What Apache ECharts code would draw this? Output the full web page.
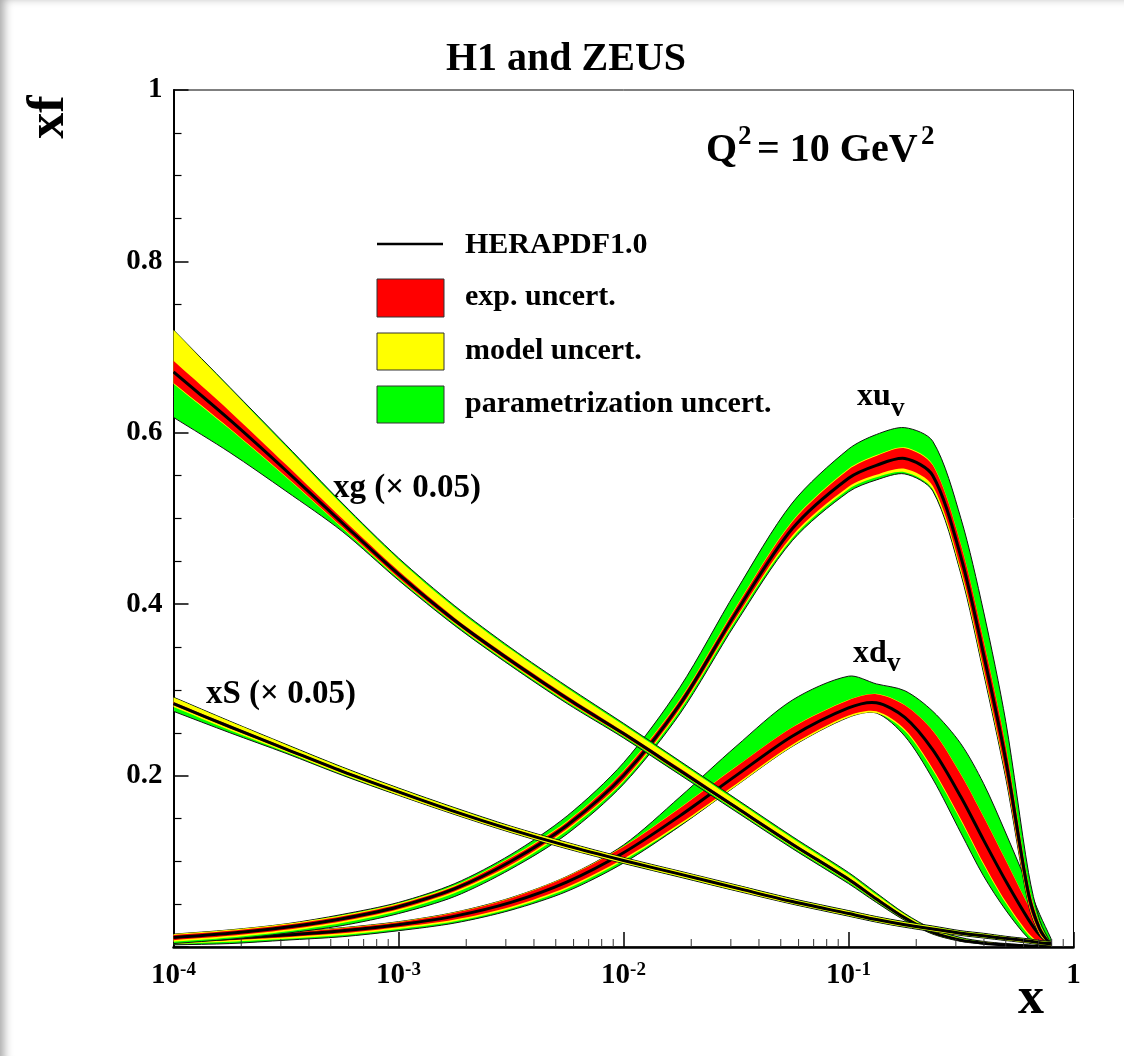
<!DOCTYPE html>
<html>
<head>
<meta charset="utf-8">
<script src="https://cdn.jsdelivr.net/npm/echarts@6/dist/echarts.min.js"></script>
<style>
  html, body { margin: 0; padding: 0; background: #fff; }
  #chart { width: 1124px; height: 1056px; }
  #shade { position: absolute; left: 0; top: 0; width: 1124px; height: 1056px; pointer-events: none;
           box-shadow: inset 10px 4px 10px -6px rgba(0, 0, 0, 0.35); }
</style>
</head>
<body>
<div id="chart"></div>
<div id="shade"></div>
<script>
// x grid shared by every curve
const X = [1e-4, 1.78e-4, 3.16e-4, 5.62e-4, 1e-3, 1.78e-3, 3.16e-3, 5.62e-3, 1e-2, 1.78e-2, 3.16e-2, 5.62e-2,
  0.1, 0.133, 0.178, 0.237, 0.316, 0.398, 0.5, 0.631, 0.708, 0.794]

// xd_v : central value and band offsets (up / down from central)
const dC = [0.0075, 0.010, 0.014, 0.019, 0.026, 0.036, 0.052, 0.076, 0.110, 0.153, 0.200, 0.246, 0.279, 0.285, 0.268, 0.230, 0.175, 0.125, 0.077, 0.032, 0.014, 0.003]
const dExp = [0.002, 0.002, 0.0025, 0.003, 0.003, 0.004, 0.005, 0.006, 0.007, 0.009, 0.010, 0.010, 0.009, 0.010, 0.014, 0.022, 0.026, 0.027, 0.024, 0.016, 0.009, 0.002]
const dModHi = [0.0025, 0.0025, 0.003, 0.0035, 0.0035, 0.0045, 0.0055, 0.0065, 0.0075, 0.0095, 0.0105, 0.0105, 0.0095, 0.0105, 0.0145, 0.0225, 0.0265, 0.0275, 0.0245, 0.0165, 0.0095, 0.0025]
const dModLo = [0.004, 0.004, 0.0045, 0.005, 0.005, 0.006, 0.007, 0.008, 0.009, 0.011, 0.012, 0.012, 0.011, 0.012, 0.016, 0.024, 0.028, 0.029, 0.026, 0.018, 0.010, 0.003]
const dTotHi = [0.0025, 0.0025, 0.003, 0.0035, 0.0035, 0.0045, 0.0055, 0.0065, 0.009, 0.022, 0.034, 0.042, 0.037, 0.022, 0.031, 0.045, 0.062, 0.066, 0.056, 0.038, 0.024, 0.007]
const dTotLo = [0.005, 0.006, 0.006, 0.007, 0.007, 0.008, 0.009, 0.011, 0.012, 0.012, 0.012, 0.012, 0.011, 0.012, 0.022, 0.034, 0.042, 0.042, 0.034, 0.022, 0.011, 0.003]

// xu_v
const uC = [0.011, 0.016, 0.023, 0.033, 0.047, 0.068, 0.100, 0.142, 0.200, 0.283, 0.390, 0.488, 0.547, 0.562, 0.570, 0.550, 0.455, 0.342, 0.218, 0.062, 0.021, 0.002]
const uExp = [0.003, 0.003, 0.003, 0.003, 0.003, 0.003, 0.004, 0.004, 0.005, 0.005, 0.006, 0.008, 0.010, 0.011, 0.012, 0.012, 0.014, 0.016, 0.016, 0.010, 0.005, 0.001]
const uModHi = [0.004, 0.004, 0.004, 0.004, 0.004, 0.004, 0.005, 0.005, 0.006, 0.006, 0.007, 0.009, 0.011, 0.012, 0.013, 0.013, 0.015, 0.017, 0.017, 0.011, 0.006, 0.001]
const uModLo = [0.005, 0.005, 0.005, 0.005, 0.005, 0.005, 0.006, 0.006, 0.007, 0.007, 0.008, 0.011, 0.013, 0.014, 0.016, 0.016, 0.018, 0.020, 0.019, 0.012, 0.006, 0.001]
const uTotHi = [0.004, 0.004, 0.004, 0.005, 0.005, 0.006, 0.008, 0.011, 0.015, 0.020, 0.025, 0.030, 0.034, 0.036, 0.036, 0.040, 0.045, 0.050, 0.045, 0.025, 0.010, 0.002]
const uTotLo = [0.007, 0.007, 0.007, 0.008, 0.008, 0.009, 0.009, 0.010, 0.010, 0.011, 0.012, 0.014, 0.016, 0.017, 0.018, 0.018, 0.020, 0.022, 0.021, 0.013, 0.007, 0.001]

// xg (x 0.05)
const gC = [0.671, 0.615, 0.556, 0.495, 0.435, 0.381, 0.334, 0.290, 0.249, 0.206, 0.163, 0.120, 0.079, 0.056, 0.034, 0.017, 0.008, 0.0045, 0.0025, 0.0012, 0.0007, 0.0003]
const gExp = [0.013, 0.010, 0.007, 0.005, 0.004, 0.003, 0.003, 0.003, 0.0025, 0.0025, 0.002, 0.002, 0.002, 0.002, 0.0015, 0.001, 0.001, 0.0005, 0.0003, 0.0002, 0.0001, 0.0001]
const gModHi = [0.049, 0.037, 0.028, 0.021, 0.017, 0.015, 0.013, 0.012, 0.010, 0.009, 0.008, 0.007, 0.006, 0.005, 0.004, 0.003, 0.002, 0.0015, 0.001, 0.0005, 0.0003, 0.0002]
const gModLo = [0.014, 0.011, 0.008, 0.006, 0.005, 0.004, 0.004, 0.004, 0.003, 0.003, 0.003, 0.003, 0.003, 0.0025, 0.002, 0.0015, 0.001, 0.0008, 0.0005, 0.0003, 0.0002, 0.0001]
const gTotHi = [0.049, 0.038, 0.030, 0.023, 0.019, 0.017, 0.015, 0.014, 0.012, 0.011, 0.010, 0.009, 0.008, 0.007, 0.005, 0.004, 0.003, 0.002, 0.0015, 0.001, 0.0005, 0.0003]
const gTotLo = [0.053, 0.038, 0.024, 0.010, 0.007, 0.006, 0.006, 0.006, 0.005, 0.005, 0.005, 0.005, 0.005, 0.004, 0.003, 0.002, 0.0015, 0.001, 0.0008, 0.0005, 0.0003, 0.0002]

// xS (x 0.05)
const sC = [0.284, 0.257, 0.231, 0.205, 0.181, 0.158, 0.137, 0.118, 0.101, 0.085, 0.069, 0.053, 0.039, 0.032, 0.026, 0.021, 0.016, 0.013, 0.010, 0.007, 0.005, 0.004]
const sExp = [0.002, 0.0018, 0.0016, 0.0015, 0.0014, 0.0013, 0.0012, 0.0012, 0.0012, 0.0012, 0.0012, 0.0012, 0.0012, 0.0012, 0.0012, 0.0012, 0.0012, 0.001, 0.001, 0.001, 0.001, 0.001]
const sModHi = [0.007, 0.006, 0.005, 0.0045, 0.004, 0.004, 0.0035, 0.0035, 0.003, 0.003, 0.003, 0.003, 0.003, 0.003, 0.003, 0.003, 0.0025, 0.0025, 0.002, 0.002, 0.002, 0.002]
const sModLo = [0.004, 0.004, 0.0035, 0.0035, 0.0035, 0.003, 0.003, 0.003, 0.003, 0.003, 0.003, 0.0025, 0.0025, 0.0025, 0.0025, 0.0025, 0.002, 0.002, 0.002, 0.002, 0.002, 0.002]
const sTotHi = [0.0075, 0.0065, 0.0055, 0.005, 0.0045, 0.0045, 0.004, 0.004, 0.0035, 0.0035, 0.0035, 0.0035, 0.0035, 0.0035, 0.0035, 0.0035, 0.003, 0.003, 0.0025, 0.0025, 0.0025, 0.0025]
const sTotLo = [0.009, 0.007, 0.005, 0.0045, 0.004, 0.0035, 0.0035, 0.0035, 0.0035, 0.0035, 0.0035, 0.003, 0.003, 0.003, 0.003, 0.003, 0.0025, 0.0025, 0.0025, 0.0025, 0.0025, 0.0025]

const xTickExp = [-4, -3, -2, -1, 0]
const legendLabels = ['HERAPDF1.0', 'exp. uncert.', 'model uncert.', 'parametrization uncert.']

const FONT = '"Liberation Serif", "DejaVu Serif", serif'
const GREEN = '#00ff00'
const YELLOW = '#ffff00'
const RED = '#ff0000'
const SMOOTH = 0.3

const chart = echarts.init(document.getElementById('chart'))

// filled band between c-dn and c+up, drawn as one smoothed polygon
const band = (c, up, dn, fill, outline) => ({
  type: 'custom',
  silent: true,
  clip: true,
  data: X.map((x, i) => [x, c[i] - dn[i], c[i] + up[i]]),
  encode: { x: 0, y: [1, 2] },
  renderItem: (params, api) => {
    if (params.dataIndexInside !== 0) return null
    const n = params.dataInsideLength
    const top = []
    const bot = []
    for (let i = 0; i < n; i++) {
      top.push(api.coord([api.value(0, i), api.value(2, i)]))
      bot.push(api.coord([api.value(0, i), api.value(1, i)]))
    }
    bot.reverse()
    // doubled end points keep the corners sharp when smoothing a closed shape
    const pts = [top[0], ...top, top[n - 1], bot[0], ...bot, bot[n - 1]]
    return {
      type: 'polygon',
      shape: { points: pts, smooth: SMOOTH },
      style: { fill, stroke: outline ? '#111' : null, lineWidth: outline ? 1 : 0 }
    }
  }
})

const centralLine = (c) => ({
  type: 'custom',
  silent: true,
  clip: true,
  data: X.map((x, i) => [x, c[i]]),
  encode: { x: 0, y: 1 },
  renderItem: (params, api) => {
    if (params.dataIndexInside !== 0) return null
    const pts = []
    for (let i = 0; i < params.dataInsideLength; i++) {
      pts.push(api.coord([api.value(0, i), api.value(1, i)]))
    }
    return {
      type: 'polyline',
      shape: { points: pts, smooth: SMOOTH },
      style: { fill: null, stroke: '#000', lineWidth: 3 }
    }
  }
})

const pdfSeries = (c, exp, modHi, modLo, totHi, totLo) => [
  band(c, totHi, totLo, GREEN, true),
  band(c, modHi, modLo, YELLOW, false),
  band(c, exp, exp, RED, false),
  centralLine(c)
]

const minorTickX = []
for (let k = -4; k < 0; k++) {
  for (let m = 2; m <= 9; m++) minorTickX.push(m * Math.pow(10, k))
}

const minorTicks = {
  type: 'custom',
  silent: true,
  clip: false,
  data: minorTickX.map((v) => [v, 0]),
  encode: { x: 0, y: 1 },
  renderItem: (params, api) => {
    const p = api.coord([api.value(0), 0])
    return {
      type: 'line',
      shape: { x1: p[0], y1: p[1], x2: p[0], y2: p[1] - 8 },
      style: { stroke: '#333', lineWidth: 1 }
    }
  }
}

const txt = (text, x, y, size, extra) => ({
  type: 'text',
  x,
  y,
  silent: true,
  style: Object.assign({
    text,
    font: 'bold ' + size + 'px ' + FONT,
    fill: '#000',
    align: 'left',
    verticalAlign: 'middle'
  }, extra || {})
})

const option = {
  animation: false,
  backgroundColor: '#fff',
  grid: {
    left: 173.5,
    right: 50.5,
    top: 90,
    bottom: 109,
    show: true,
    borderColor: '#000',
    borderWidth: 1
  },
  xAxis: {
    type: 'log',
    logBase: 10,
    min: 1e-4,
    max: 1,
    splitNumber: 4,
    axisLine: { lineStyle: { color: '#000', width: 2.5 } },
    axisTick: { inside: true, length: 15, lineStyle: { color: '#000', width: 1.5 } },
    splitLine: { show: false },
    axisLabel: {
      margin: 14,
      formatter: (v) => {
        const e = Math.round(Math.log10(v))
        if (xTickExp.indexOf(e) < 0) return ''
        return e === 0 ? '{b|1}' : '{b|10}{s|' + e + '}'
      },
      rich: {
        b: { fontFamily: FONT, fontWeight: 'bold', fontSize: 29, color: '#000', lineHeight: 30 },
        s: { fontFamily: FONT, fontWeight: 'bold', fontSize: 19, color: '#000', lineHeight: 20, verticalAlign: 'top' }
      }
    }
  },
  yAxis: {
    type: 'value',
    min: 0,
    max: 1,
    interval: 0.2,
    axisLine: { show: true, lineStyle: { color: '#000', width: 2 } },
    axisTick: { inside: true, length: 15, lineStyle: { color: '#000', width: 1.5 } },
    minorTick: { show: true, splitNumber: 4, length: 8, lineStyle: { color: '#000', width: 1.2 } },
    splitLine: { show: false },
    axisLabel: {
      margin: 11,
      padding: [6, 0, 0, 0],
      fontFamily: FONT,
      fontWeight: 'bold',
      fontSize: 29,
      color: '#000',
      formatter: (v) => (v === 0 ? '' : String(+v.toFixed(1)))
    }
  },
  series: [
    ...pdfSeries(dC, dExp, dModHi, dModLo, dTotHi, dTotLo),
    ...pdfSeries(uC, uExp, uModHi, uModLo, uTotHi, uTotLo),
    ...pdfSeries(gC, gExp, gModHi, gModLo, gTotHi, gTotLo),
    ...pdfSeries(sC, sExp, sModHi, sModLo, sTotHi, sTotLo),
    minorTicks
  ],
  graphic: [
    txt('H1 and ZEUS', 566, 60, 40, { align: 'center' }),
    // Q^2 = 10 GeV^2
    txt('Q', 706, 151, 40),
    txt('2', 738, 137, 27),
    txt('= 10 GeV', 757, 151, 40),
    txt('2', 921, 137, 27),
    // curve names
    txt('xu', 857, 397, 32),
    txt('v', 891, 409, 27),
    txt('xd', 853, 654, 32),
    txt('v', 887, 664, 27),
    txt('xg (\u00d7 0.05)', 333, 488, 33),
    txt('xS (\u00d7 0.05)', 206, 694, 33),
    // axis names
    txt('x', 1031, 1000, 52, { align: 'center' }),
    {
      type: 'text',
      x: 50,
      y: 117,
      rotation: Math.PI / 2,
      silent: true,
      style: { text: 'xf', font: 'bold 52px ' + FONT, fill: '#000', align: 'center', verticalAlign: 'middle' }
    },
    // legend
    { type: 'line', silent: true, shape: { x1: 377, y1: 244, x2: 443, y2: 244 }, style: { stroke: '#000', lineWidth: 2.5 } },
    { type: 'rect', silent: true, shape: { x: 377, y: 279, width: 67, height: 38 }, style: { fill: RED, stroke: '#333', lineWidth: 1 } },
    { type: 'rect', silent: true, shape: { x: 377, y: 333, width: 67, height: 37 }, style: { fill: YELLOW, stroke: '#333', lineWidth: 1 } },
    { type: 'rect', silent: true, shape: { x: 377, y: 386, width: 67, height: 37 }, style: { fill: GREEN, stroke: '#333', lineWidth: 1 } },
    txt(legendLabels[0], 465, 245, 30),
    txt(legendLabels[1], 465, 297, 30),
    txt(legendLabels[2], 465, 351, 30),
    txt(legendLabels[3], 465, 404, 30)
  ]
}

chart.setOption(option)
</script>
</body>
</html>
